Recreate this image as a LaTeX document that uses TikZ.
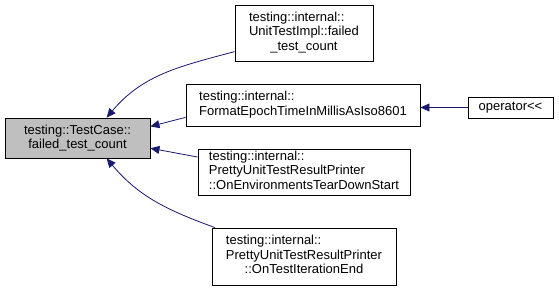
\documentclass[tikz,border=0pt]{standalone}
\usepackage{fontspec}
\setmainfont{Liberation Sans}
\usetikzlibrary{arrows.meta}
\definecolor{edgeblue}{HTML}{191970}
\definecolor{mainfill}{HTML}{BFBFBF}

\begin{document}
\begin{tikzpicture}[x=1pt,y=-1pt,
    fn/.style={draw, line width=0.9pt, inner sep=0pt, font=\fontsize{13}{14.5}\selectfont},
    edge/.style={draw=edgeblue, line width=0.8pt, -{Triangle[length=9pt,width=8pt]}, edgeblue}]
  \useasboundingbox (0,0) rectangle (559,291);
  \node[fn, fill=mainfill, minimum width=145pt, minimum height=40pt, align=center] (main) at (77.5,138)
    {testing::TestCase::\\failed\_test\_count};
  \node[fn, minimum width=138pt, minimum height=56pt] (utimpl) at (304,33)
    {\begin{tabular}{@{}l@{}}testing::internal::\\UnitTestImpl::failed\\\multicolumn{1}{@{}c@{}}{\_test\_count}\end{tabular}};
  \node[fn, minimum width=234pt, minimum height=42pt] (fmt) at (303,105)
    {\begin{tabular}{@{}l@{}}testing::internal::\\FormatEpochTimeInMillisAsIso8601\end{tabular}};
  \node[fn, minimum width=85pt, minimum height=21pt] (op) at (510.5,107.5) {operator<{}<};
  \node[fn, minimum width=212pt, minimum height=46pt] (env) at (304,172)
    {\begin{tabular}{@{}l@{}}testing::internal::\\PrettyUnitTestResultPrinter\\::OnEnvironmentsTearDownStart\end{tabular}};
  \node[fn, minimum width=184pt, minimum height=57pt] (iter) at (304,256.5)
    {\begin{tabular}{@{}l@{}}testing::internal::\\PrettyUnitTestResultPrinter\\\multicolumn{1}{@{}c@{}}{::OnTestIterationEnd}\end{tabular}};

  \draw[edge] (utimpl.195) to[out=195,in=50] (main.35);
  \draw[edge] (fmt.186) -- (main.9);
  \draw[edge] (op.west) -- (fmt.east |- op.west);
  \draw[edge] (env.172) -- (main.-8);
  \draw[edge] (iter.162) to[out=160,in=-50] (main.-35);
\end{tikzpicture}
\end{document}
